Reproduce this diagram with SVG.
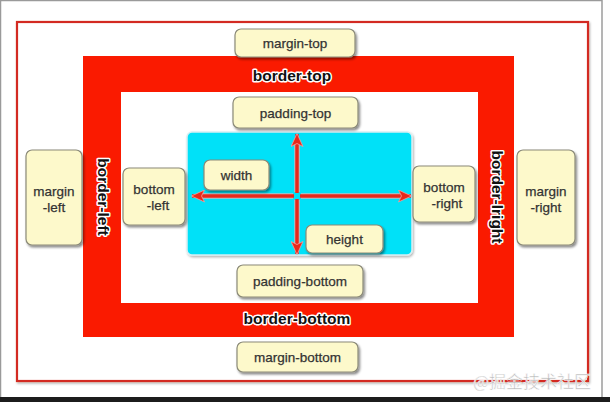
<svg xmlns="http://www.w3.org/2000/svg" width="610" height="402" viewBox="0 0 610 402">
  <defs>
    <filter id="sh" x="-20%" y="-20%" width="150%" height="150%">
      <feDropShadow dx="1.5" dy="2" stdDeviation="1.2" flood-color="#000" flood-opacity="0.45"/>
    </filter>
    <filter id="sh2" x="-5%" y="-5%" width="110%" height="110%">
      <feDropShadow dx="1" dy="1.5" stdDeviation="1" flood-color="#000" flood-opacity="0.3"/>
    </filter>
    <marker id="ah" viewBox="0 0 14 13" refX="13" refY="6.5" markerWidth="14" markerHeight="13" markerUnits="userSpaceOnUse" orient="auto-start-reverse">
      <path d="M0.5,0.5 L13.5,6.5 L0.5,12.5 L3.5,6.5 Z" fill="#e8281a" stroke="#f6a0a0" stroke-width="0.8"/>
    </marker>
  </defs>
  <style>
    .box { fill: #fdf9cb; stroke: #8b8a78; stroke-width: 1.2; filter: url(#sh); }
    .lbl { font-family: "Liberation Sans", Arial, sans-serif; font-size: 13.5px; fill: #333; text-anchor: middle; stroke: #333; stroke-width: 0.25; }
    .bl { font-family: "Liberation Sans", Arial, sans-serif; font-size: 15.5px; font-weight: bold; fill: #111; text-anchor: middle; stroke: #fff; stroke-width: 3; paint-order: stroke; stroke-linejoin: round; }
    .arr { stroke: #e8281a; stroke-width: 3.5; fill: none; }
    .arrw { stroke: #f8b0b0; stroke-width: 5.5; fill: none; opacity: 0.8; }
  </style>

  <rect x="0" y="0" width="610" height="402" fill="#fdfdfd"/>
  <rect x="0.5" y="0.5" width="601.5" height="398" fill="#fff" stroke="#9a9a9a" stroke-width="1.5"/>
  <rect x="0" y="397" width="610" height="5" fill="#1c1c1c"/>

  <g id="margin-area">
    <rect x="17" y="22" width="571" height="359" fill="#fff" stroke="#d32a20" stroke-width="2.2" filter="url(#sh2)"/>
  </g>

  <g id="border-area">
    <path d="M83,56 H514 V337 H83 Z M121,92 V303 H478 V92 Z" fill="#fa1a00" fill-rule="evenodd"/>
    <rect x="121" y="92" width="357" height="211" fill="#fff"/>
  </g>

  <g id="content">
    <rect x="187" y="132" width="225" height="123" rx="5" fill="#00e1f8" stroke="#d8eef2" stroke-width="1.5" filter="url(#sh2)"/>
  </g>

  <g id="connectors">
    <line class="arrw" x1="297" y1="140" x2="297" y2="192"/>
    <line class="arrw" x1="297" y1="200" x2="297" y2="248"/>
    <line class="arrw" x1="198" y1="196" x2="293" y2="196"/>
    <line class="arrw" x1="301" y1="196" x2="404" y2="196"/>
    <line class="arr" x1="297" y1="134" x2="297" y2="193" marker-start="url(#ah)"/>
    <line class="arr" x1="297" y1="199" x2="297" y2="254" marker-end="url(#ah)"/>
    <line class="arr" x1="192" y1="196" x2="294" y2="196" marker-start="url(#ah)"/>
    <line class="arr" x1="300" y1="196" x2="411" y2="196" marker-end="url(#ah)"/>
  </g>

  <g id="margin-top">
    <rect class="box" x="235" y="29" width="120" height="28" rx="6"/>
    <text class="lbl" x="295" y="48">margin-top</text>
  </g>
  <g id="border-top">
    <text class="bl" x="292" y="80.5">border-top</text>
  </g>
  <g id="padding-top">
    <rect class="box" x="233" y="97" width="125" height="31" rx="6"/>
    <text class="lbl" x="295.5" y="117.5">padding-top</text>
  </g>
  <g id="width">
    <rect class="box" x="204" y="160" width="65" height="30" rx="6"/>
    <text class="lbl" x="236.5" y="179.5">width</text>
  </g>
  <g id="height">
    <rect class="box" x="306" y="225" width="77" height="28" rx="6"/>
    <text class="lbl" x="344.5" y="244">height</text>
  </g>
  <g id="padding-bottom">
    <rect class="box" x="237" y="265" width="126" height="32" rx="6"/>
    <text class="lbl" x="300" y="286">padding-bottom</text>
  </g>
  <g id="border-bottom">
    <text class="bl" x="297" y="323.5">border-bottom</text>
  </g>
  <g id="margin-bottom">
    <rect class="box" x="237" y="342" width="121" height="30" rx="6"/>
    <text class="lbl" x="297.5" y="361.5">margin-bottom</text>
  </g>
  <g id="margin-left">
    <rect class="box" x="26" y="150" width="56" height="95" rx="6"/>
    <text class="lbl" x="54" y="196">margin</text>
    <text class="lbl" x="54" y="212">-left</text>
  </g>
  <g id="border-left">
    <text class="bl" transform="translate(98,197) rotate(90)" x="0" y="0">border-left</text>
  </g>
  <g id="bottom-left">
    <rect class="box" x="123" y="168" width="62" height="57" rx="6"/>
    <text class="lbl" x="154" y="194">bottom</text>
    <text class="lbl" x="158" y="210">-left</text>
  </g>
  <g id="bottom-right">
    <rect class="box" x="413" y="166" width="62" height="56" rx="6"/>
    <text class="lbl" x="444" y="192">bottom</text>
    <text class="lbl" x="447" y="208">-right</text>
  </g>
  <g id="border-right">
    <text class="bl" transform="translate(492,197) rotate(90)" x="0" y="0">border-lright</text>
  </g>
  <g id="margin-right">
    <rect class="box" x="517" y="150" width="58" height="95" rx="6"/>
    <text class="lbl" x="546" y="196">margin</text>
    <text class="lbl" x="546" y="212">-right</text>
  </g>

  <text x="591" y="388" font-family="'Noto Sans CJK SC', sans-serif" font-size="17" fill="#b8b8b8" stroke="#ffffff" stroke-width="0.5" text-anchor="end">@掘金技术社区</text>
</svg>
